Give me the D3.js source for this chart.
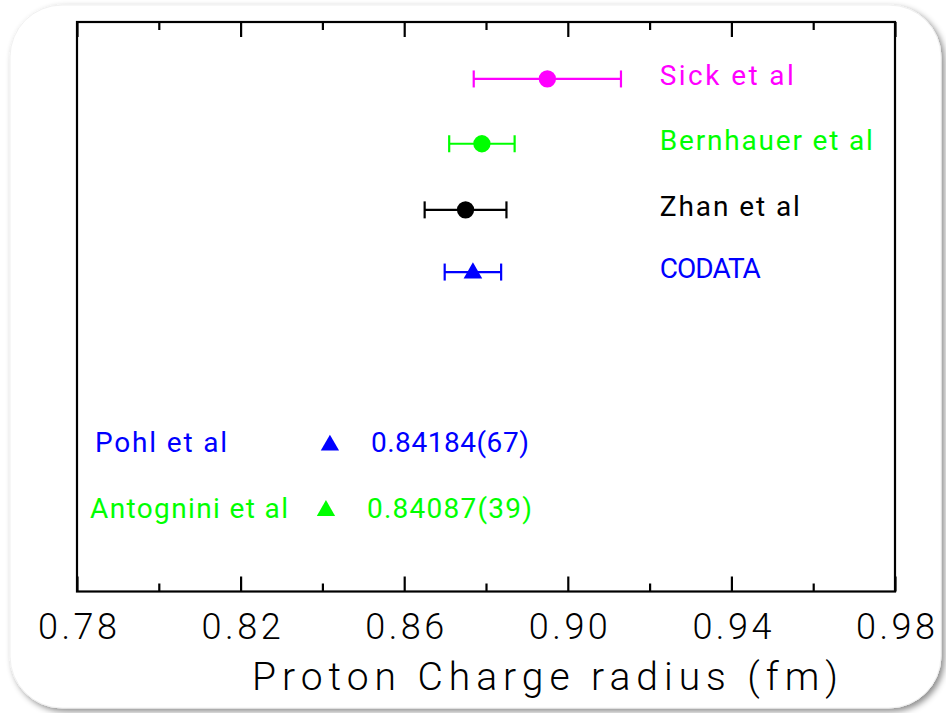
<!DOCTYPE html>
<html>
<head>
<meta charset="utf-8">
<script src="https://cdn.jsdelivr.net/npm/d3@7/dist/d3.min.js"></script>
<style>
  html, body { margin: 0; padding: 0; background: #ffffff; }
  svg { display: block; }
  text { font-family: Roboto, "Liberation Sans", sans-serif; font-weight: 300; }
  text.label { font-weight: 400; }
</style>
</head>
<body>
<svg id="chart" width="946" height="713"></svg>
<script>
// Electron-scattering and CODATA determinations (value ± uncertainty, fm)
const epNames  = ["Sick et al", "Bernhauer et al", "Zhan et al", "CODATA"];
const epRadius = [0.895, 0.879, 0.875, 0.8768];
const epError  = [0.018, 0.008, 0.010, 0.0069];
const epLevel  = [7.83, 6.84, 5.83, 4.88];
const epMarker = ["circle", "circle", "circle", "triangle"];

// Muonic hydrogen results
const muNames  = ["Pohl et al", "Antognini et al"];
const muRadius = [0.84184, 0.84087];
const muDigits = ["67", "39"];
const muLevel  = [2.25, 1.25];

// Axis
const xDomain     = [0.78, 0.98];
const majorTicks  = [0.78, 0.82, 0.86, 0.90, 0.94, 0.98];
const minorTicks  = [0.80, 0.84, 0.88, 0.92, 0.96];
const xTitle      = "Proton Charge radius (fm)";

const epColors = ["#ff00ff", "#00ff00", "#000000", "#0000ff"];
const muColors = ["#0000ff", "#00ff00"];

const svg = d3.select("#chart");

// rounded card with soft drop shadow
const defs = svg.append("defs");
const f = defs.append("filter").attr("id", "shadow")
  .attr("x", "-5%").attr("y", "-5%").attr("width", "112%").attr("height", "112%");
f.append("feDropShadow").attr("dx", 3).attr("dy", 3)
  .attr("stdDeviation", 3).attr("flood-color", "#000").attr("flood-opacity", 0.45);

svg.append("rect")
  .attr("x", 10).attr("y", 5).attr("width", 931).attr("height", 703)
  .attr("rx", 52).attr("ry", 52)
  .attr("fill", "#ffffff").attr("stroke", "#f0f0f0").attr("stroke-width", 1)
  .attr("filter", "url(#shadow)");

const plotLeft = 77, plotRight = 895, plotTop = 22, plotBottom = 591.5;

const x = d3.scaleLinear().domain(xDomain).range([plotLeft, plotRight]);
const y = d3.scaleLinear().domain([0, 8.7]).range([plotBottom, plotTop]);

// frame
svg.append("rect")
  .attr("x", plotLeft).attr("y", plotTop)
  .attr("width", plotRight - plotLeft).attr("height", plotBottom - plotTop)
  .attr("fill", "none").attr("stroke", "#000").attr("stroke-width", 2.2);

// bottom axis: labelled major ticks
const axB = svg.append("g").attr("transform", `translate(0,${plotBottom})`)
  .call(d3.axisBottom(x).tickValues(majorTicks).tickFormat(d3.format(".2f"))
    .tickSizeInner(-15).tickSizeOuter(0).tickPadding(22));
axB.select(".domain").remove();
axB.selectAll("line").attr("stroke-width", 2.2);
axB.selectAll("text")
  .attr("font-size", 36).attr("fill", "#000")
  .attr("font-family", null)
  .attr("textLength", 79).attr("lengthAdjust", "spacing");

// bottom minor ticks
const axBm = svg.append("g").attr("transform", `translate(0,${plotBottom})`)
  .call(d3.axisBottom(x).tickValues(minorTicks).tickFormat("")
    .tickSizeInner(-8).tickSizeOuter(0));
axBm.select(".domain").remove();
axBm.selectAll("line").attr("stroke-width", 2.2);

// top axis mirrors the ticks
const axT = svg.append("g").attr("transform", `translate(0,${plotTop})`)
  .call(d3.axisTop(x).tickValues(majorTicks).tickFormat("")
    .tickSizeInner(-15).tickSizeOuter(0));
axT.select(".domain").remove();
axT.selectAll("line").attr("stroke-width", 2.2);
const axTm = svg.append("g").attr("transform", `translate(0,${plotTop})`)
  .call(d3.axisTop(x).tickValues(minorTicks).tickFormat("")
    .tickSizeInner(-8).tickSizeOuter(0));
axTm.select(".domain").remove();
axTm.selectAll("line").attr("stroke-width", 2.2);

// axis title
svg.append("text")
  .attr("x", 252).attr("y", 690)
  .attr("font-size", 39).attr("fill", "#000")
  .attr("textLength", 586).attr("lengthAdjust", "spacing")
  .text(xTitle);

// error bars with caps
const ep = epNames.map((n, i) => ({
  name: n, r: epRadius[i], e: epError[i], lvl: epLevel[i],
  marker: epMarker[i], color: epColors[i]
}));
const capH = 8.5;
const gEp = svg.append("g");
const rowsG = gEp.selectAll("g.row").data(ep).join("g").attr("class", "row");
rowsG.append("line")
  .attr("x1", d => x(d.r - d.e)).attr("x2", d => x(d.r + d.e))
  .attr("y1", d => y(d.lvl)).attr("y2", d => y(d.lvl))
  .attr("stroke", d => d.color).attr("stroke-width", 2.2);
rowsG.append("line")
  .attr("x1", d => x(d.r - d.e)).attr("x2", d => x(d.r - d.e))
  .attr("y1", d => y(d.lvl) - capH).attr("y2", d => y(d.lvl) + capH)
  .attr("stroke", d => d.color).attr("stroke-width", 2.2);
rowsG.append("line")
  .attr("x1", d => x(d.r + d.e)).attr("x2", d => x(d.r + d.e))
  .attr("y1", d => y(d.lvl) - capH).attr("y2", d => y(d.lvl) + capH)
  .attr("stroke", d => d.color).attr("stroke-width", 2.2);
rowsG.append("path")
  .attr("transform", d => `translate(${x(d.r)},${y(d.lvl) + (d.marker === "triangle" ? 1 : 0)})`)
  .attr("d", d => d3.symbol()
    .type(d.marker === "triangle" ? d3.symbolTriangle : d3.symbolCircle)
    .size(d.marker === "triangle" ? 150 : 235)())
  .attr("fill", d => d.color);

// series labels at the right
const epLabelWidth = [134, 213, 140, 101];
rowsG.append("text").attr("class", "label")
  .attr("x", x(0.9225)).attr("y", d => y(d.lvl) + 6)
  .attr("font-size", 28).attr("fill", d => d.color)
  .attr("textLength", (d, i) => epLabelWidth[i]).attr("lengthAdjust", "spacing")
  .text(d => d.name);

// muonic hydrogen points with their quoted values
const mu = muNames.map((n, i) => ({
  name: n, r: muRadius[i], digits: muDigits[i], lvl: muLevel[i], color: muColors[i]
}));
const muNameWidth = [132, 198];
const muValWidth = [158, 165];
const gMu = svg.append("g").selectAll("g").data(mu).join("g");
gMu.append("path")
  .attr("transform", d => `translate(${x(d.r)},${y(d.lvl) + 1})`)
  .attr("d", d3.symbol().type(d3.symbolTriangle).size(145)())
  .attr("fill", d => d.color);
gMu.append("text").attr("class", "label")
  .attr("x", (d, i) => i === 0 ? 95 : 90).attr("y", d => y(d.lvl) + 8)
  .attr("font-size", 28).attr("fill", d => d.color)
  .attr("textLength", (d, i) => muNameWidth[i]).attr("lengthAdjust", "spacing")
  .text(d => d.name);
gMu.append("text").attr("class", "label")
  .attr("x", d => x(d.r) + 41).attr("y", d => y(d.lvl) + 8)
  .attr("font-size", 28).attr("fill", d => d.color)
  .attr("textLength", (d, i) => muValWidth[i]).attr("lengthAdjust", "spacing")
  .text(d => `${d.r.toFixed(5)}(${d.digits})`);
</script>
</body>
</html>
